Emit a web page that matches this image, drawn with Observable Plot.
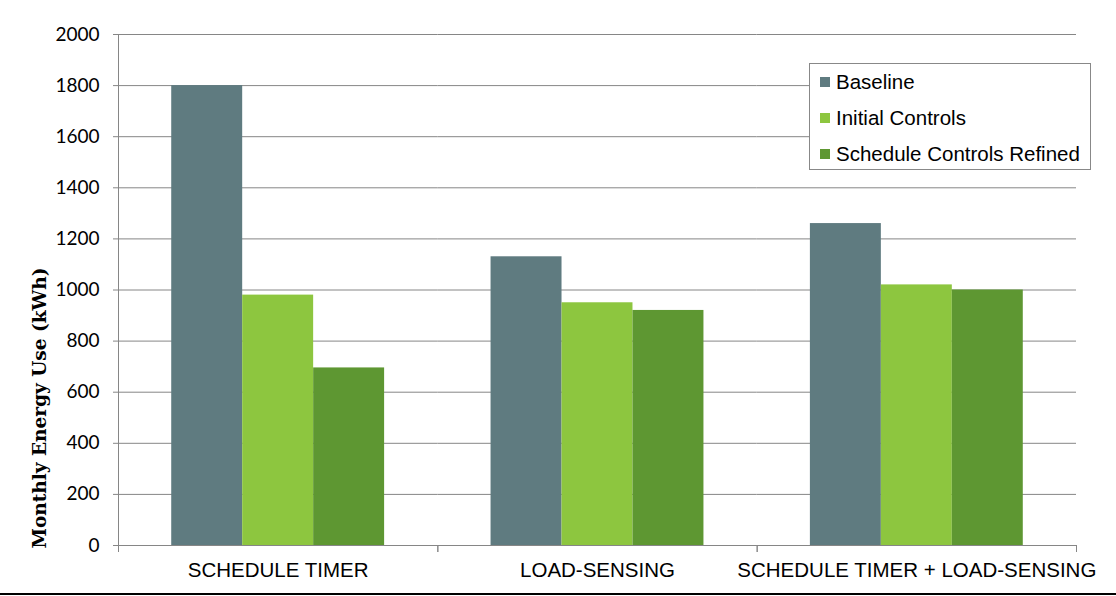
<!DOCTYPE html>
<html>
<head>
<meta charset="utf-8">
<script src="https://cdn.jsdelivr.net/npm/d3@7"></script>
<script src="https://cdn.jsdelivr.net/npm/@observablehq/plot@0.6"></script>
<style>
  html, body { margin: 0; padding: 0; background: #fff; }
  #wrap { position: relative; width: 1116px; height: 596px; overflow: hidden; }
  #chart svg { display: block; }
  #baseline-rule { width: 1116px; height: 0; border-top: 2px solid #000; }
  #legend {
    position: absolute; left: 809px; top: 63px; width: 282px; height: 107px;
    box-sizing: border-box; border: 1px solid #888; background: #fff;
    font-family: "Liberation Sans", Arial, sans-serif; font-size: 20.5px; color: #000;
  }
  #legend .row { position: absolute; left: 10px; display: flex; align-items: center; height: 24px; }
  #legend .sw { width: 10px; height: 10px; margin-right: 6px; }
</style>
</head>
<body>
<div id="wrap">
  <div id="chart"></div>
  <div id="baseline-rule"></div>
  <div id="legend"></div>
</div>
<script>
const categories = ["SCHEDULE TIMER", "LOAD-SENSING", "SCHEDULE TIMER + LOAD-SENSING"];
const series = ["Baseline", "Initial Controls", "Schedule Controls Refined"];
const baselineValues = [1800, 1130, 1260];
const initialValues = [980, 950, 1020];
const refinedValues = [695, 920, 1000];
const colors = ["#5F7B80", "#8DC63F", "#5E9732"];
const yTicks = [0, 200, 400, 600, 800, 1000, 1200, 1400, 1600, 1800, 2000];
const yTitle = "Monthly Energy Use (kWh)";

const valueLists = [baselineValues, initialValues, refinedValues];
const data = [];
categories.forEach((c, ci) => {
  series.forEach((s, si) => data.push({category: c, series: s, value: valueLists[si][ci]}));
});

const gridColor = "#868686";

const chart = Plot.plot({
  width: 1116,
  height: 593,
  marginTop: 34,
  marginBottom: 48,
  marginLeft: 118,
  marginRight: 40,
  style: {background: "#fff", color: "#000", overflow: "visible"},
  fx: {domain: categories, padding: 0, round: false},
  x: {domain: series, paddingInner: 0, paddingOuter: 0.75, round: false, axis: null},
  y: {domain: [0, 2000]},
  color: {domain: series, range: colors},
  marks: [
    Plot.gridY(yTicks, {stroke: gridColor, strokeOpacity: 1, strokeWidth: 1}),
    Plot.barY(data, {fx: "category", x: "series", y: "value", fill: "series"}),
    Plot.ruleY([0], {stroke: gridColor}),
    Plot.frame({anchor: "left", facet: "super", stroke: gridColor}),
    Plot.frame({anchor: "left", stroke: gridColor, insetTop: 511, insetBottom: -6}),
    Plot.frame({anchor: "right", stroke: gridColor, insetTop: 511, insetBottom: -6}),
    Plot.axisY(yTicks, {
      tickSize: 5, tickPadding: 14, stroke: gridColor, label: null, tickFormat: d3.format("d"),
      fontSize: 19, fontFamily: "Lato, 'Open Sans', sans-serif", fill: "#000"
    }),
    Plot.axisFx({
      anchor: "bottom", tickSize: 0, tickPadding: 17, label: null,
      fontSize: 20.5, fontFamily: "'Liberation Sans', Arial, sans-serif", fill: "#000"
    }),
    Plot.text([yTitle], {
      facet: "super", frameAnchor: "bottom-left", rotate: -90, dx: -78, dy: 3,
      textAnchor: "start", lineAnchor: "middle",
      fontFamily: "'DejaVu Serif', serif", fontWeight: "bold", fontSize: 18.5, fill: "#000"
    })
  ]
});
document.getElementById("chart").appendChild(chart);

const legend = document.getElementById("legend");
series.forEach((s, i) => {
  const row = document.createElement("div");
  row.className = "row";
  row.style.top = (6 + i * 36) + "px";
  const sw = document.createElement("div");
  sw.className = "sw";
  sw.style.background = colors[i];
  const t = document.createElement("span");
  t.textContent = s;
  row.appendChild(sw);
  row.appendChild(t);
  legend.appendChild(row);
});
</script>
</body>
</html>
